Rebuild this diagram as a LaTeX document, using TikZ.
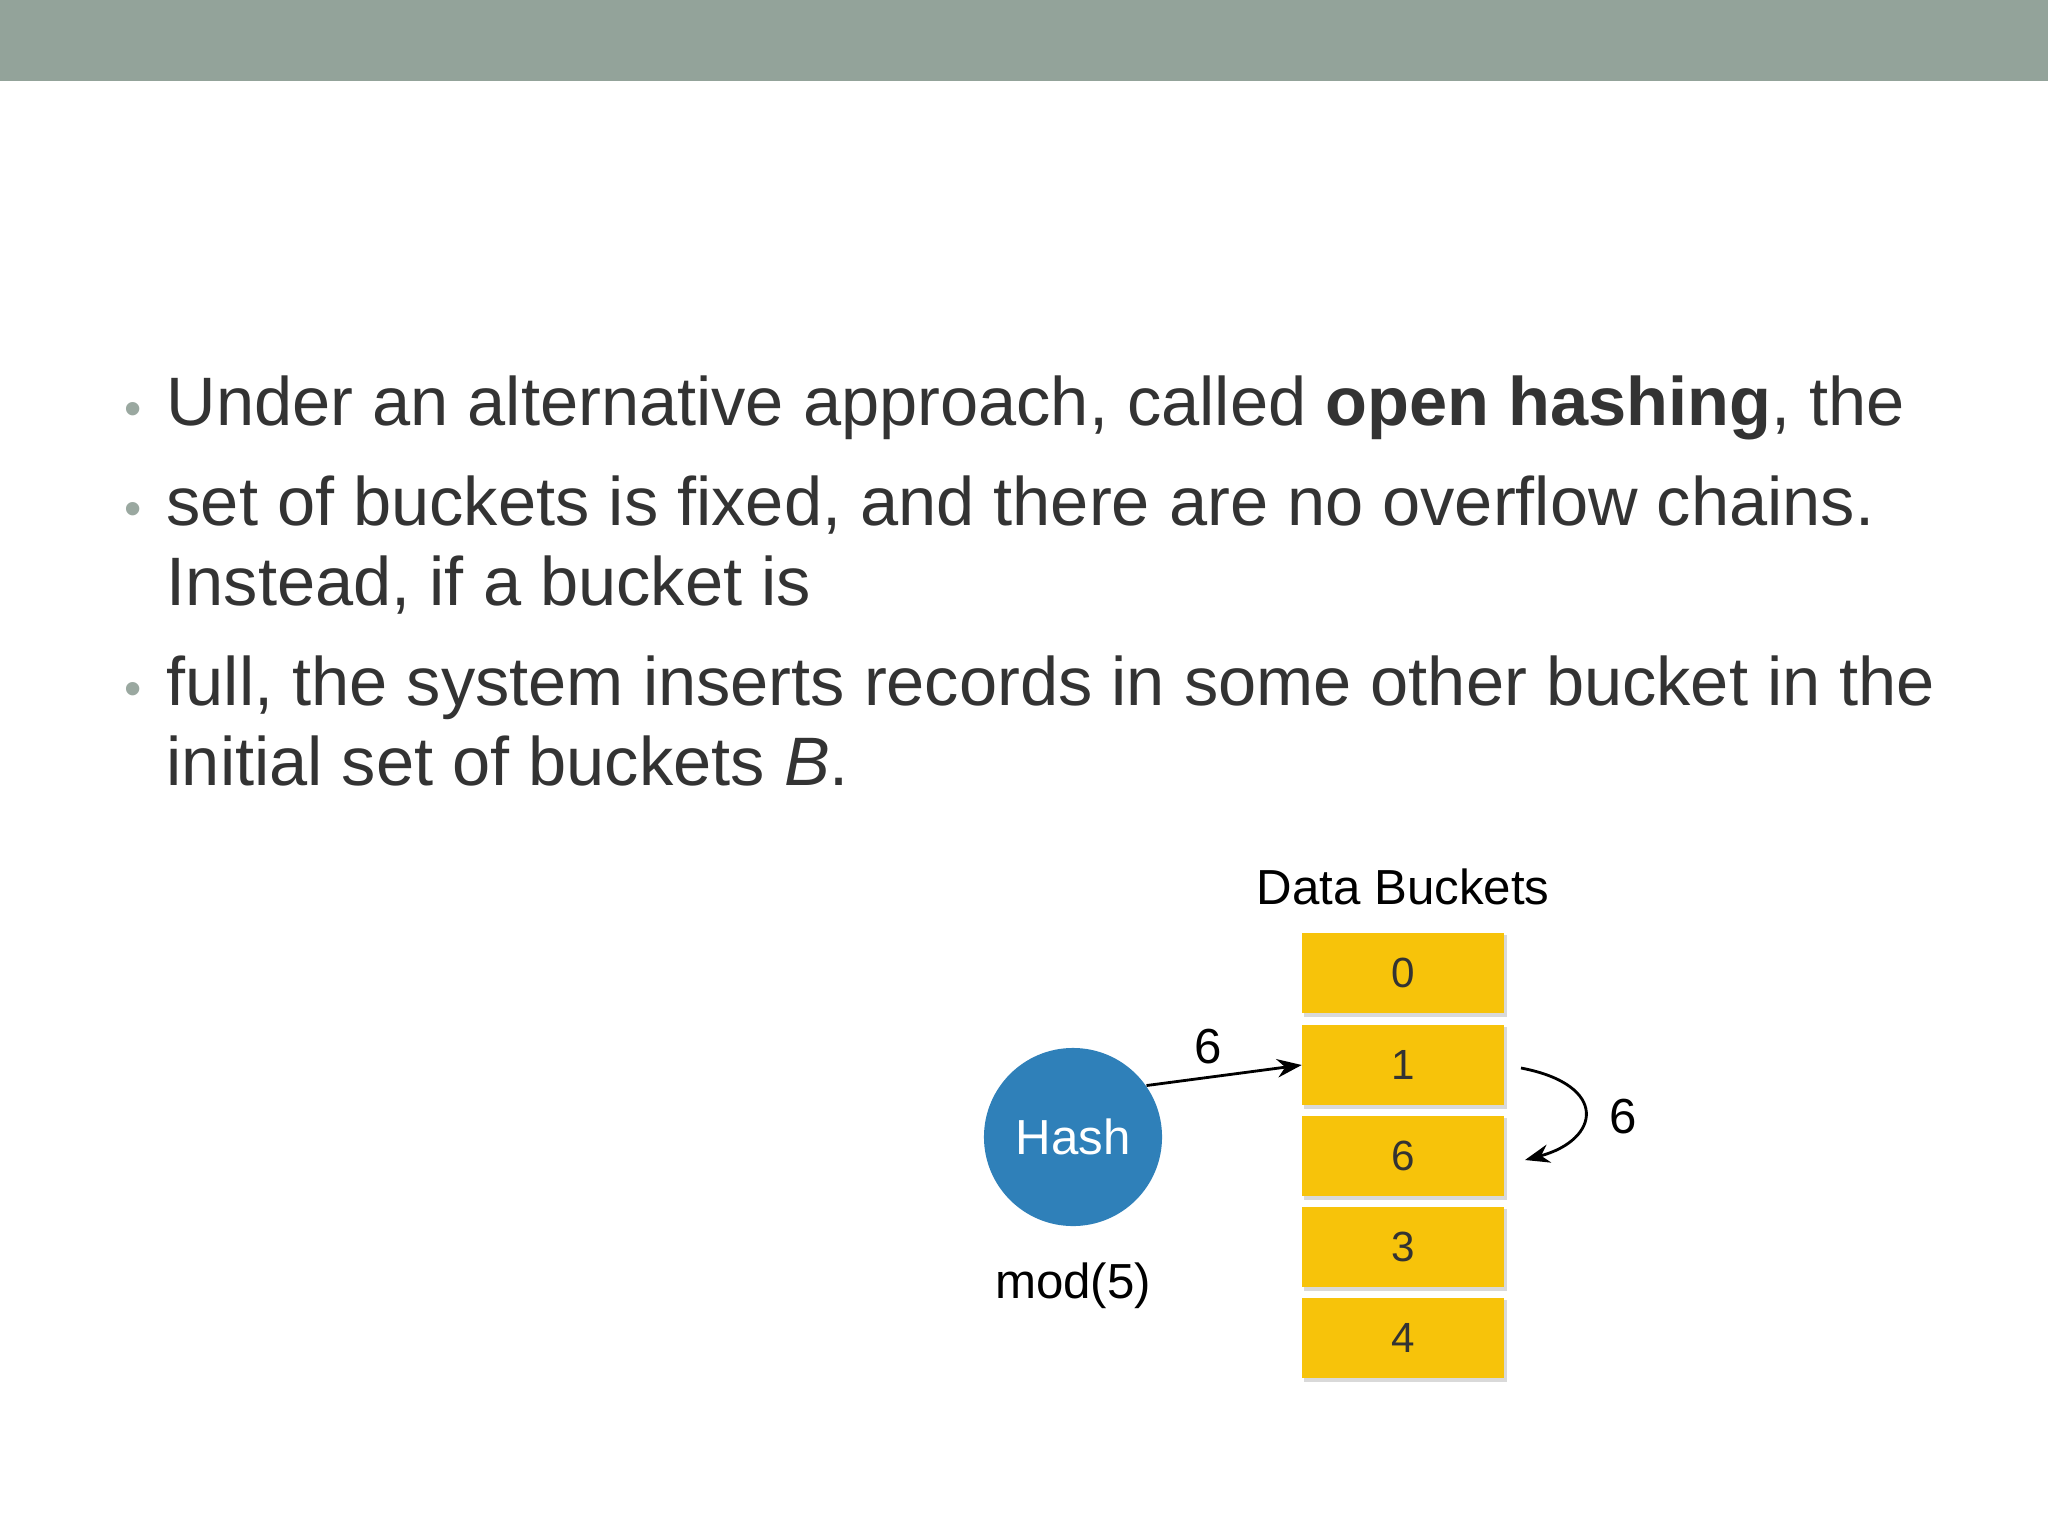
\documentclass[tikz,border=0pt]{standalone}
\usepackage{fontspec}
\setmainfont{Liberation Sans}
\usetikzlibrary{arrows.meta}
\definecolor{bar}{HTML}{93A39A}
\definecolor{txt}{HTML}{333333}
\definecolor{bul}{HTML}{9AA8A0}
\definecolor{hashc}{HTML}{2F80B9}
\definecolor{buck}{HTML}{F7C30A}
\begin{document}
\begin{tikzpicture}[x=0.01cm,y=-0.01cm,
  bucket/.style={fill=buck,minimum width=2.01cm,minimum height=0.8cm,inner sep=0pt,font=\fontsize{12}{14}\selectfont,text=txt,drop shadow/.style={}},
  lbl/.style={font=\fontsize{14}{16}\selectfont,text=black},
  bl/.style={anchor=base west,text=txt,font=\fontsize{19.5}{23}\selectfont,align=left,inner sep=0pt},
  dot/.style={anchor=base,text=bul,font=\fontsize{14}{16}\selectfont,inner sep=0pt}]
\useasboundingbox (0,0) rectangle (2048,1536);
\fill[bar] (0,0) rectangle (2048,81);
\node[dot] (d1) at (133,425) {•};
\node[bl] (l1) at (166,425) {Under an alternative approach, called \textbf{open hashing}, the};
\node[dot] (d2) at (133,525) {•};
\node[bl] (l2) at (166,525) {set of buckets is fixed, and there are no overflow chains.};
\node[bl] (l2b) at (166,605) {Instead, if a bucket is};
\node[dot] (d3) at (133,705) {•};
\node[bl] (l3) at (166,705) {full, the system inserts records in some other bucket in the};
\node[bl] (l3b) at (166,785) {initial set of buckets \textit{B}.};
\node[lbl] (title) at (1403,887) {Data Buckets};
\foreach \n/\y/\t in {b0/973/0,b1/1065/1,b6/1156/6,b3/1247/3,b4/1338/4}{
  \fill[black!15] (1304,\y-38) rectangle (1507,\y+44);
  \node[bucket] (\n) at (1403,\y) {\t};}
\node[circle,fill=hashc,minimum size=1.78cm,text=white,font=\fontsize{14}{16}\selectfont] (hash) at (1073,1137) {Hash};
\node[lbl] (mod) at (1073,1286) {mod(5)};
\draw[-{Stealth[length=7pt]},thick] (hash.35) -- (b1.west) node[pos=0.4,above,lbl] {6};
\draw[-{Stealth[length=7pt]},thick] (1521,1068) .. controls (1610,1085) and (1600,1140) .. (1525,1160);
\node[lbl] (six) at (1623,1117) {6};
\end{tikzpicture}
\end{document}
